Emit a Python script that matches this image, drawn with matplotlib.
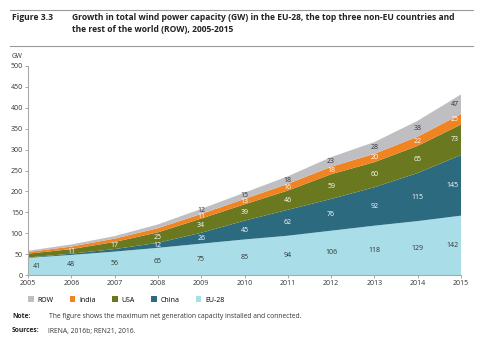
import matplotlib
matplotlib.use("Agg")
import matplotlib.pyplot as plt
from matplotlib.patches import Patch
from matplotlib.lines import Line2D

plt.rcParams['font.family'] = ['Open Sans', 'DejaVu Sans']

years = [2005, 2006, 2007, 2008, 2009, 2010, 2011, 2012, 2013, 2014, 2015]
eu28 = [41, 48, 56, 65, 75, 85, 94, 106, 118, 129, 142]
china = [1, 3, 6, 12, 26, 45, 62, 76, 92, 115, 145]
usa = [9, 11, 17, 25, 34, 39, 46, 59, 60, 65, 73]
india = [4, 6, 8, 10, 11, 13, 16, 18, 20, 22, 25]
row = [3, 5, 6, 9, 12, 15, 18, 23, 28, 38, 47]

series_names = ["EU-28", "China", "USA", "India", "ROW"]
series = [eu28, china, usa, india, row]
colors = ["#a9dde8", "#2c6a80", "#6a781f", "#f08423", "#bfbfc3"]
text_colors = ["#333333", "white", "white", "white", "#333333"]
# first year index from which a value label is shown per series
label_start = [0, 3, 1, 4, 4]

fig = plt.figure(figsize=(4.8, 3.44), dpi=100)
ax = fig.add_axes([28/480, 1-275/344, (461-28)/480, (275-66)/344])

ax.stackplot(years, *series, colors=colors, linewidth=0)

ax.set_xlim(2005, 2015)
ax.set_ylim(0, 500)
ax.set_xticks(years)
ax.set_yticks(range(0, 501, 50))
ax.tick_params(axis='both', labelsize=5, colors='#999999', labelcolor='#333333',
               length=2, width=0.6, pad=1.5)
for s in ['top', 'right']:
    ax.spines[s].set_visible(False)
for s in ['left', 'bottom']:
    ax.spines[s].set_color('#aaaaaa')
    ax.spines[s].set_linewidth(0.8)

# value labels
base = [0]*len(years)
for k, vals in enumerate(series):
    for i, y in enumerate(years):
        mid = base[i] + vals[i]/2
        if i >= label_start[k]:
            x = y
            ha = 'center'
            if i == 0:
                x = y + 0.1
                ha = 'left'
            elif i == len(years)-1:
                x = y - 0.05
                ha = 'right'
            if k == 4 and i == 4:
                mid += 2.5
            if k == 3 and i == 4:
                mid -= 1
            ax.text(x, mid, str(vals[i]), ha=ha, va='center', fontsize=5,
                    color=text_colors[k])
    base = [b + v for b, v in zip(base, vals)]

# title block
fig.add_artist(Line2D([10/480, 473/480], [1-10/344, 1-10/344], color='#999999', lw=0.8))
fig.add_artist(Line2D([10/480, 473/480], [1-46/344, 1-46/344], color='#999999', lw=0.8))
fig.text(12/480, 1-17/344, "Figure 3.3", fontsize=6.1, fontweight='bold', va='center', color='#222222')
fig.text(72/480, 1-17/344, "Growth in total wind power capacity (GW) in the EU-28, the top three non-EU countries and",
         fontsize=6.1, fontweight='bold', va='center', color='#222222')
fig.text(72/480, 1-29/344, "the rest of the world (ROW), 2005-2015",
         fontsize=6.1, fontweight='bold', va='center', color='#222222')
fig.text(12/480, 1-56/344, "GW", fontsize=4.8, va='center', color='#333333')

# legend
handles = [Patch(facecolor=colors[k], edgecolor='none', label=series_names[k]) for k in [4, 3, 2, 1, 0]]
fig.legend(handles=handles, loc='center left', bbox_to_anchor=(28/480, 1-300/344), ncol=5,
           frameon=False, fontsize=5, handlelength=0.8, handleheight=0.8, handletextpad=0.6,
           columnspacing=2.3, borderaxespad=0, borderpad=0)

fig.text(12/480, 1-316/344, "Note:", fontsize=4.9, fontweight='bold', va='center', color='#222222')
fig.text(49/480, 1-316/344, "The figure shows the maximum net generation capacity installed and connected.",
         fontsize=4.85, va='center', color='#333333')
fig.text(12/480, 1-331/344, "Sources:", fontsize=4.9, fontweight='bold', va='center', color='#222222')
fig.text(48/480, 1-331/344, "IRENA, 2016b; REN21, 2016.", fontsize=4.85, va='center', color='#333333')

fig.savefig("out.png", dpi=100)
